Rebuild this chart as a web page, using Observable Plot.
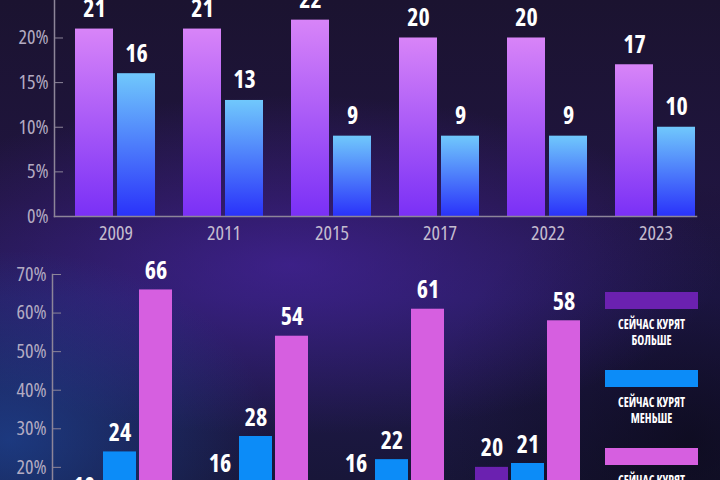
<!DOCTYPE html>
<html>
<head>
<meta charset="utf-8">
<script src="https://cdn.jsdelivr.net/npm/d3@7"></script>
<script src="https://cdn.jsdelivr.net/npm/@observablehq/plot@0.6"></script>
<style>
  html, body { margin: 0; padding: 0; width: 720px; height: 480px; overflow: hidden; }
  body {
    position: relative;
    background:
      radial-gradient(ellipse 260px 190px at 10px 440px, rgba(30, 85, 180, 0.55), rgba(30, 85, 180, 0) 100%),
      radial-gradient(ellipse 430px 170px at 290px 265px, rgba(78, 38, 175, 0.6), rgba(78, 38, 175, 0) 100%),
      radial-gradient(ellipse 260px 260px at 690px 440px, rgba(8, 6, 16, 0.6), rgba(8, 6, 16, 0) 100%),
      linear-gradient(180deg, #1b1330 0%, #201540 42%, #221a52 62%, #181639 100%);
    font-family: "Open Sans", "DejaVu Sans Condensed", sans-serif;
    font-stretch: 75%;
  }
  svg text { font-stretch: 75%; }
  #top { position: absolute; left: 0; top: 0; }
  #bottom { position: absolute; left: 0; top: 248px; }
  #legend { position: absolute; left: 605px; top: 292px; width: 93px; }
  .item { margin-bottom: 22px; }
  .swatch { height: 17px; margin-bottom: 7px; }
  .label {
    color: #fff; font-weight: bold; font-size: 14px; line-height: 16px;
    text-align: center; white-space: nowrap;
    margin-left: -20px; margin-right: -20px;
    transform: scaleX(0.84); transform-origin: 50% 50%;
  }
</style>
</head>
<body>
<svg width="0" height="0" style="position:absolute"><defs id="grads"></defs></svg>
<div id="top"></div>
<div id="bottom"></div>
<div id="legend"></div>
<script>
// Upper panel: share by year, two series
const years = ["2009", "2011", "2015", "2017", "2022", "2023"];
const topKeys = ["серия 1", "серия 2"];
const topFirst = [21, 21, 22, 20, 20, 17];
const topSecond = [16, 13, 9, 9, 9, 10];
const topTicks = [0, 5, 10, 15, 20];

// Lower panel: how smoking changed, by group
const groups = ["I", "II", "III", "IV"];
const bottomKeys = ["СЕЙЧАС КУРЯТ БОЛЬШЕ", "СЕЙЧАС КУРЯТ МЕНЬШЕ", "СЕЙЧАС КУРЯТ СТОЛЬКО ЖЕ"];
const bottomMore = [10, 16, 16, 20];
const bottomLess = [24, 28, 22, 21];
const bottomSame = [66, 54, 61, 58];
const bottomTicks = [0, 10, 20, 30, 40, 50, 60, 70];

// Colours
const topGradients = [["#d884f8", "#7a30f6"], ["#70c8fc", "#2a32fa"]];
const bottomColors = ["#6b21b0", "#0c8cf8", "#d65fe0"];
const axisColor = "#8d8599";
const FONT = '"Open Sans", "DejaVu Sans Condensed", sans-serif';

// vertical gradients used as bar fills
const defs = document.getElementById("grads");
const NS = "http://www.w3.org/2000/svg";
topGradients.forEach(([c0, c1], i) => {
  const g = document.createElementNS(NS, "linearGradient");
  g.setAttribute("id", "grad" + i);
  g.setAttribute("x1", "0"); g.setAttribute("y1", "0");
  g.setAttribute("x2", "0"); g.setAttribute("y2", "1");
  [[0, c0], [1, c1]].forEach(([o, c]) => {
    const s = document.createElementNS(NS, "stop");
    s.setAttribute("offset", o);
    s.setAttribute("stop-color", c);
    g.appendChild(s);
  });
  defs.appendChild(g);
});

const topRows = years.flatMap((year, i) => [
  {year, series: topKeys[0], value: topFirst[i]},
  {year, series: topKeys[1], value: topSecond[i]}
]);

const topChart = Plot.plot({
  width: 720,
  height: 248,
  marginLeft: 52,
  marginRight: 22,
  marginTop: 0,
  marginBottom: 32,
  style: {background: "transparent", fontFamily: FONT, overflow: "visible"},
  fx: {domain: years, paddingInner: 0.057, paddingOuter: 0, label: null},
  x: {domain: topKeys, paddingInner: 0.093, paddingOuter: 0, insetLeft: 20.5, axis: null},
  y: {domain: [0, 24.2], label: null},
  color: {domain: topKeys, range: ["url(#grad0)", "url(#grad1)"]},
  marks: [
    Plot.barY(topRows, {fx: "year", x: "series", y: "value", fill: "series"}),
    Plot.text(topRows, {
      fx: "year", x: "series", y: "value", text: "value",
      lineAnchor: "bottom", dy: -12, fill: "#ffffff",
      fontSize: 24, fontWeight: "bold"
    }),
    Plot.axisY({
      ticks: topTicks, tickFormat: d => d + "%", tickSize: -9, tickPadding: 15,
      stroke: axisColor, fill: "#b3abc2", fontSize: 20, label: null
    }),
    Plot.axisFx({
      anchor: "bottom", tickSize: 0, tickPadding: 9, dx: 10.5,
      fill: "#c4bccf", fontSize: 20, label: null
    }),
    Plot.frame({anchor: "left", facet: "super", stroke: axisColor, strokeWidth: 1.5}),
    Plot.frame({anchor: "bottom", facet: "super", stroke: axisColor, strokeWidth: 1.5})
  ]
});
document.getElementById("top").appendChild(topChart);

const bottomSeries = [bottomMore, bottomLess, bottomSame];
const bottomRows = groups.flatMap((group, i) =>
  bottomKeys.map((series, j) => ({group, series, value: bottomSeries[j][i]}))
);

const bottomChart = Plot.plot({
  width: 720,
  height: 332,
  marginLeft: 52,
  marginRight: 140,
  marginTop: 26,
  marginBottom: 36,
  style: {background: "transparent", fontFamily: FONT, overflow: "visible"},
  fx: {domain: groups, paddingInner: 16 / 136, paddingOuter: 0, axis: null},
  x: {domain: bottomKeys, paddingInner: 3 / 36, paddingOuter: 0, insetLeft: 15, axis: null},
  y: {domain: [0, 70], label: null},
  color: {domain: bottomKeys, range: bottomColors},
  marks: [
    Plot.barY(bottomRows, {fx: "group", x: "series", y: "value", fill: "series"}),
    Plot.text(bottomRows, {
      fx: "group", x: "series", y: "value", text: "value",
      lineAnchor: "bottom", dy: -11, fill: "#ffffff",
      fontSize: 24, fontWeight: "bold"
    }),
    Plot.axisY({
      ticks: bottomTicks, tickFormat: d => d + "%", tickSize: -9, tickPadding: 15,
      stroke: axisColor, fill: "#b3abc2", fontSize: 20, label: null
    }),
    Plot.frame({anchor: "left", facet: "super", stroke: axisColor, strokeWidth: 1.5}),
    Plot.frame({anchor: "bottom", facet: "super", stroke: axisColor, strokeWidth: 1.5})
  ]
});
document.getElementById("bottom").appendChild(bottomChart);

// legend for the lower panel
const legend = document.getElementById("legend");
bottomKeys.forEach((key, i) => {
  const item = document.createElement("div");
  item.className = "item";
  const sw = document.createElement("div");
  sw.className = "swatch";
  sw.style.background = bottomColors[i];
  const lab = document.createElement("div");
  lab.className = "label";
  const words = key.split(" ");
  lab.innerHTML = words.slice(0, 2).join(" ") + "<br>" + words.slice(2).join(" ");
  item.appendChild(sw);
  item.appendChild(lab);
  legend.appendChild(item);
});
</script>
</body>
</html>
